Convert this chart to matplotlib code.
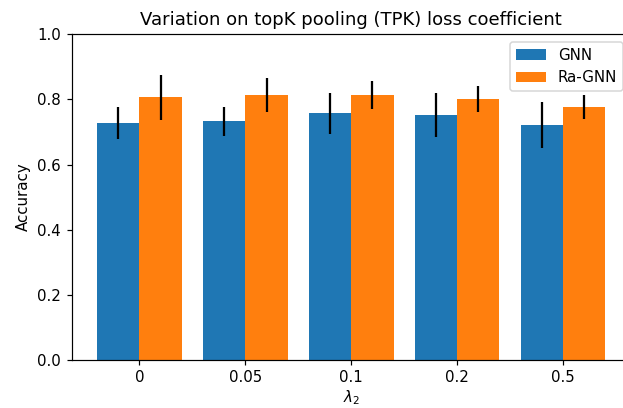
import numpy as np
import matplotlib
matplotlib.use("Agg")
import matplotlib.pyplot as plt


lambdas = ["0", "0.05", "0.1", "0.2", "0.5"]

gnn_acc = [0.728, 0.733, 0.757, 0.753, 0.721]
gnn_err = [0.048, 0.045, 0.063, 0.068, 0.071]

ragnn_acc = [0.806, 0.813, 0.813, 0.800, 0.777]
ragnn_err = [0.069, 0.052, 0.043, 0.040, 0.036]

x = np.arange(len(lambdas))
width = 0.4

DPI = 108
W, H = 623, 408

fig = plt.figure(figsize=(W / DPI, H / DPI), dpi=DPI)
# right edge of the axes sits just past the canvas
ax = fig.add_axes([71.7 / W, 48 / H, 559 / W, 325.7 / H])

ax.bar(x - width / 2, gnn_acc, width, yerr=gnn_err, label="GNN")
ax.bar(x + width / 2, ragnn_acc, width, yerr=ragnn_err, label="Ra-GNN")

ax.set_xticks(x)
ax.set_xticklabels(lambdas)
ax.set_ylim(0, 1.0)
ax.set_xlabel(r"$\lambda_2$", labelpad=2)
ax.set_ylabel("Accuracy")
ax.set_title("Variation on topK pooling (TPK) loss coefficient")
ax.legend(loc="upper right")

fig.savefig("out.png", dpi=DPI)
